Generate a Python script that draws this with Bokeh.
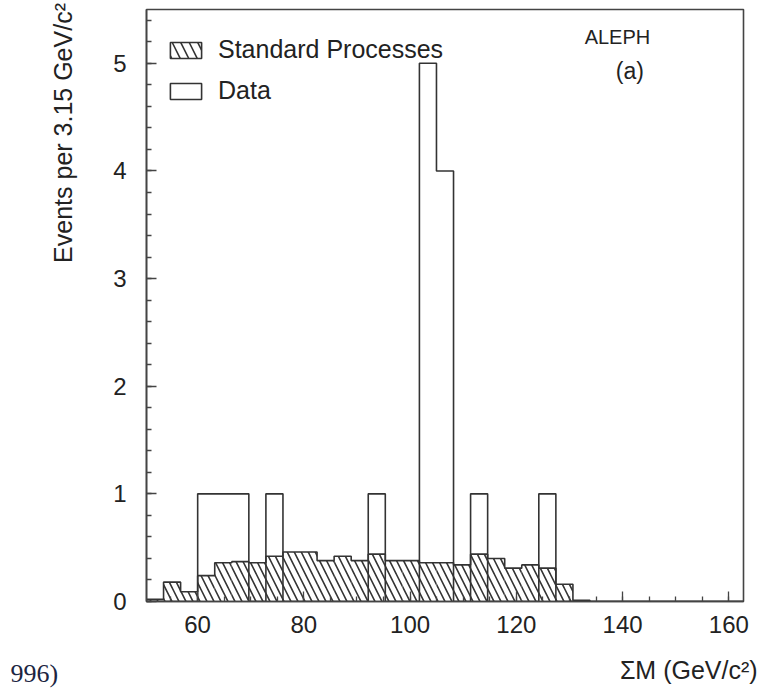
import numpy as np
from bokeh.plotting import figure
from bokeh.models import (Range1d, SingleIntervalTicker, Label, Legend,
                          LegendItem, ColumnDataSource)
from bokeh.embed import file_html
from bokeh.resources import INLINE

# ---- data ----
bin_start = 50.4          # GeV/c^2, left edge of first bin
bin_width = 3.21          # bin width as drawn
standard_processes = [0.02, 0.18, 0.09, 0.24, 0.36, 0.37, 0.36, 0.42, 0.46, 0.46,
                      0.38, 0.42, 0.38, 0.44, 0.38, 0.38, 0.36, 0.36, 0.34, 0.44,
                      0.40, 0.31, 0.34, 0.31, 0.16, 0.01, 0, 0, 0, 0,
                      0, 0, 0, 0, 0]
data_events = [0, 0, 0, 1, 1, 1, 0, 1, 0, 0,
               0, 0, 0, 1, 0, 0, 5, 4, 0, 1,
               0, 0, 0, 1, 0, 0, 0, 0, 0, 0,
               0, 0, 0, 0, 0]
x_tick_step = 20
y_tick_step = 1

edges = bin_start + bin_width * np.arange(len(standard_processes) + 1)
std = np.array(standard_processes, dtype=float)
dat = np.array(data_events, dtype=float)

INK = "#333333"
TXT = "#222222"
FONT = "Liberation Sans"

p = figure(width=768, height=690,
           x_range=Range1d(edges[0], edges[-1]), y_range=Range1d(0, 5.5),
           output_backend="svg", toolbar_location=None,
           min_border_left=146, min_border_right=25,
           min_border_top=9, min_border_bottom=89)
p.background_fill_color = "white"
p.border_fill_color = "white"
p.outline_line_color = "#444444"
p.outline_line_width = 1.6
p.grid.visible = False

p.xaxis.ticker = SingleIntervalTicker(interval=x_tick_step, num_minor_ticks=4)
p.yaxis.ticker = SingleIntervalTicker(interval=y_tick_step, num_minor_ticks=5)
for ax in (p.xaxis[0], p.yaxis[0]):
    ax.major_tick_in = 10
    ax.major_tick_out = 0
    ax.minor_tick_in = 5
    ax.minor_tick_out = 0
    ax.axis_line_color = "#444444"
    ax.axis_line_width = 1.6
    ax.major_tick_line_color = "#444444"
    ax.major_tick_line_width = 1.3
    ax.minor_tick_line_color = "#444444"
    ax.minor_tick_line_width = 1.3
    ax.major_label_text_font = FONT
    ax.major_label_text_font_size = "24px"
    ax.major_label_text_color = TXT
p.yaxis.major_label_standoff = 20
p.xaxis.major_label_standoff = 14

# hatched standard-process histogram
src = ColumnDataSource(dict(left=edges[:-1], right=edges[1:], top=std))
p.quad(left="left", right="right", bottom=0, top="top", source=src,
       fill_color=None, line_alpha=0,
       hatch_pattern="\\", hatch_color=INK, hatch_weight=1.6, hatch_scale=14)
p.step(x=edges, y=np.append(std, std[-1]), mode="after",
       line_color=INK, line_width=1.6)

# data histogram (outline)
p.step(x=edges, y=np.append(dat, dat[-1]), mode="after",
       line_color=INK, line_width=1.6)

# renderers used only for the legend swatches (hidden on the plot)
dsrc = ColumnDataSource(dict(left=edges[:-1], right=edges[1:], top=dat))
leg_std = p.quad(left="left", right="right", bottom=0, top="top", source=src,
                 fill_color="white", line_color=INK, line_width=1.6,
                 hatch_pattern="\\", hatch_color=INK, hatch_weight=1.6,
                 hatch_scale=17, visible=False)
leg_dat = p.quad(left="left", right="right", bottom=0, top="top", source=dsrc,
                 fill_color="white", line_color=INK, line_width=1.6,
                 visible=False)
legend = Legend(items=[LegendItem(label="Standard Processes", renderers=[leg_std]),
                       LegendItem(label="Data", renderers=[leg_dat])],
                location=(20, 496), glyph_width=39, glyph_height=20,
                label_standoff=13, spacing=12, padding=0, margin=0,
                border_line_alpha=0, background_fill_alpha=0,
                inactive_fill_alpha=0,
                label_text_font=FONT, label_text_font_size="25px",
                label_text_color=TXT)
p.add_layout(legend)

p.add_layout(Label(x=145.2, y=5.24, text="ALEPH", text_align="right",
                   text_baseline="middle", text_font=FONT,
                   text_font_size="20px", text_color=TXT))
p.add_layout(Label(x=144.0, y=4.93, text="(a)", text_align="right",
                   text_baseline="middle", text_font=FONT,
                   text_font_size="23px", text_color=TXT))
# texts outside the frame go into side panels so they are not clipped
p.add_layout(Label(x=34.6, y=5.56, text="Events per 3.15 GeV/c²",
                   angle=np.pi / 2, text_align="right", text_baseline="middle",
                   text_font=FONT, text_font_size="25px", text_color=TXT), "left")
p.add_layout(Label(x=24.8, y=-0.665, text="996)", text_align="left",
                   text_baseline="middle", text_font="Liberation Serif",
                   text_font_size="26px", text_color="#1c2541"), "left")
p.add_layout(Label(x=165.4, y=-0.64, text="ΣM (GeV/c²)", text_align="right",
                   text_baseline="middle", text_font=FONT,
                   text_font_size="25px", text_color=TXT), "below")

open("out.html", "w").write(file_html(p, INLINE))
